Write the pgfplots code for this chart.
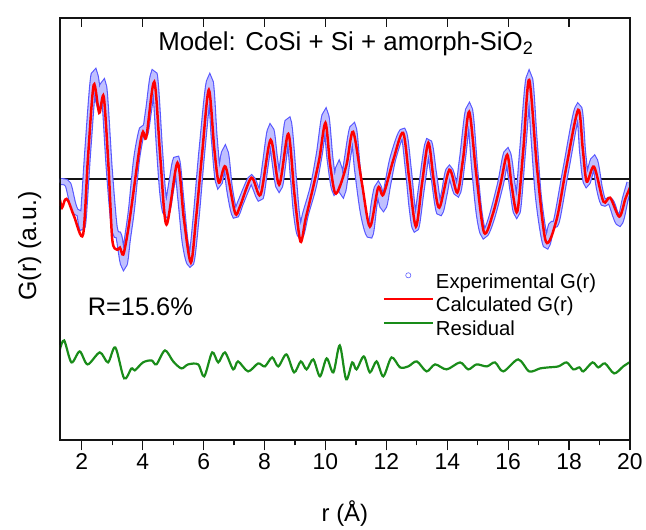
\documentclass[border=0pt]{standalone}
\usepackage{pgfplots}
\pgfplotsset{compat=1.18}
\usepackage{fontspec}
\setmainfont{Liberation Sans}

\definecolor{expblue}{RGB}{30,30,255}
\definecolor{calcred}{RGB}{255,0,0}
\definecolor{resgreen}{RGB}{25,140,25}
\definecolor{axisgray}{RGB}{20,20,20}

\pgfplotstableread{
x y
1.28 -3
1.40 -3
1.55 -6
1.70 -25
1.80 -33
1.93 -35
2.03 -45
2.20 30
2.40 104
2.57 76
2.72 92
2.90 10
3.05 -45
3.14 -56
3.22 -58
3.38 -86
3.50 -60
3.63 -31
3.80 20
3.98 49
4.08 46
4.20 70
4.38 104
4.55 30
4.66 -15
4.78 -34
4.95 -5
5.11 19
5.25 -20
5.40 -65
5.58 -84
5.75 -40
5.95 30
6.20 98
6.35 40
6.50 -4
6.70 27
6.85 -10
7.03 -36
7.20 -25
7.40 -10
7.57 0
7.72 -10
7.87 -18
8.03 15
8.20 49
8.33 20
8.48 -8
8.62 20
8.78 57
8.95 0
9.05 -35
9.18 -56
9.35 -35
9.60 -8
9.80 25
10.00 64
10.15 20
10.31 -11
10.44 11
10.56 -13
10.72 20
10.91 51
11.05 10
11.25 -35
11.46 -56
11.60 -25
11.73 -8
11.90 -28
12.05 -5
12.23 22
12.55 47
12.72 10
12.85 -30
12.97 -49
13.15 -10
13.38 36
13.55 5
13.74 -33
13.90 -15
14.07 9
14.33 -14
14.50 20
14.72 70
14.90 10
15.05 -35
15.21 -56
15.45 -40
15.75 -5
15.97 26
16.15 -10
16.30 -33
16.48 30
16.69 101
16.85 40
17.00 -20
17.24 -66
17.42 -47
17.59 -42
17.90 10
18.30 71
18.45 25
18.58 -4
18.82 19
19.00 -10
19.13 -24
19.30 -22
19.40 -25
19.65 -44
19.85 -20
20.00 -4
}\exptable

\pgfplotstableread{
x y
1.28 -21
1.35 -29
1.45 -21
1.55 -22
1.75 -38
2.04 -56
2.20 20
2.39 94
2.57 66
2.72 82
2.88 10
3.00 -61
3.15 -71
3.25 -69
3.36 -76
3.50 -55
3.63 -28
3.90 32
4.01 47
4.12 42
4.38 97
4.58 20
4.78 -46
5.14 16
5.35 -40
5.58 -84
5.75 -40
5.95 25
6.17 89
6.35 30
6.50 -4
6.72 12
7.03 -34
7.19 -28
7.57 1
7.87 -16
8.20 39
8.48 -6
8.78 45
8.98 -15
9.18 -63
9.35 -40
9.60 -8
9.80 20
10.00 56
10.15 15
10.31 -14
10.47 -8
10.70 15
10.91 47
11.20 -5
11.46 -48
11.73 -9
11.90 -16
12.23 19
12.55 46
12.75 0
12.97 -48
13.17 -5
13.38 36
13.55 0
13.74 -29
14.07 9
14.33 -14
14.52 20
14.72 67
14.95 5
15.21 -54
15.50 -35
15.75 -5
15.97 24
16.12 -8
16.30 -33
16.50 30
16.69 99
16.95 10
17.24 -63
17.59 -41
17.90 10
18.30 69
18.45 30
18.58 -3
18.82 12
19.13 -23
19.35 -19
19.65 -38
19.85 -20
20.00 -9
}\calctable

\pgfplotstableread{
x y
1.28 -171
1.42 -162
1.66 -184
1.93 -173
2.19 -186
2.59 -174
2.86 -184
3.10 -169
3.39 -200
3.63 -190
3.74 -192
4.01 -184
4.29 -182
4.45 -186
4.73 -172
5.00 -183
5.27 -190
5.49 -186
5.82 -186
6.02 -198
6.28 -174
6.48 -184
6.70 -174
6.97 -191
7.13 -183
7.46 -193
7.79 -185
8.01 -188
8.25 -179
8.45 -188
8.72 -176
8.97 -194
9.19 -183
9.38 -191
9.60 -181
9.82 -198
10.04 -180
10.26 -194
10.47 -167
10.68 -201
10.88 -184
11.02 -191
11.26 -178
11.46 -194
11.68 -183
11.90 -198
12.17 -179
12.45 -189
12.72 -188
13.00 -183
13.32 -193
13.60 -186
13.98 -191
14.42 -184
14.69 -191
14.96 -186
15.30 -188
15.57 -184
15.84 -193
16.33 -181
16.69 -193
17.05 -190
17.32 -189
17.65 -188
17.92 -184
18.14 -191
18.34 -189
18.47 -193
18.77 -184
18.96 -189
19.18 -185
19.48 -195
19.78 -188
19.98 -184
}\restable

\begin{document}
\begin{tikzpicture}
\begin{axis}[
  scale only axis, width=571bp, height=423bp,
  xmin=1.28, xmax=20, ymin=-262, ymax=161,
  clip mode=individual,
  xtick={2,4,...,20}, minor x tick num=1,
  xtick pos=bottom, xtick align=outside,
  major tick length=10bp, minor tick length=5bp,
  extra x ticks={2,4,...,18}, extra x tick labels={},
  extra x tick style={xtick pos=top, tick align=inside, major tick length=9bp},
  ytick=\empty,
  axis line style={line width=2pt, axisgray},
  tick style={line width=1.3pt, axisgray},
  xlabel={r (Å)}, ylabel={G(r) (a.u.)},
  label style={font=\fontsize{24}{28}\selectfont},
  xlabel style={yshift=-14bp},
  ylabel style={at={(axis description cs:-0.053,0.46)}, anchor=center, font=\fontsize{25}{29}\selectfont},
  tick label style={font=\fontsize{23}{27}\selectfont},
  /pgf/number format/assume math mode=true,
  legend style={draw=none, fill=none, at={(rel axis cs:0.5657,0.402)}, anchor=north west,
    font=\fontsize{20.4}{24}\selectfont, inner sep=0bp, row sep=0bp,
    nodes={text height=15.5bp, text depth=4.3bp},
    /tikz/every even column/.append style={column sep=5bp}},
  legend cell align=left,
  legend image code/.code={\draw[#1] (0bp,7.3bp) -- (49bp,7.3bp);},
]
\addplot[axisgray, line width=1.8pt, forget plot] coordinates {(1.28,0) (20,0)};
\addplot[expblue!75, line width=1.1bp, double=expblue!28, double distance=4.8bp, smooth, forget plot]
  table[x=x, y=y] {\exptable};
\addlegendimage{legend image code/.code={\draw[expblue!70, line width=0.6pt] (24.5bp,7.3bp) circle (2.6bp);}}
\addlegendentry{Experimental G(r)}
\addplot[calcred, line width=2.5pt, smooth] table[x=x, y=y] {\calctable};
\addlegendentry{Calculated G(r)}
\addplot[resgreen, line width=2.2pt, smooth] table[x=x, y=y] {\restable};
\addlegendentry{Residual}
\addplot[axisgray, line width=2pt, forget plot] coordinates {(1.28,-262) (20,-262) (20,161) (1.28,161) (1.28,-262)};
\node[font=\fontsize{26}{30}\selectfont] at (axis cs:10.67,135) {Model: CoSi + Si + amorph-SiO\textsubscript{2}};
\node[anchor=west, font=\fontsize{25.5}{30}\selectfont] at (axis cs:2.08,-128) {R=15.6\%};
\end{axis}
\path ([shift={(-60bp,-75bp)}]current axis.south west) rectangle ([shift={(15bp,18bp)}]current axis.north east);
\end{tikzpicture}
\end{document}
